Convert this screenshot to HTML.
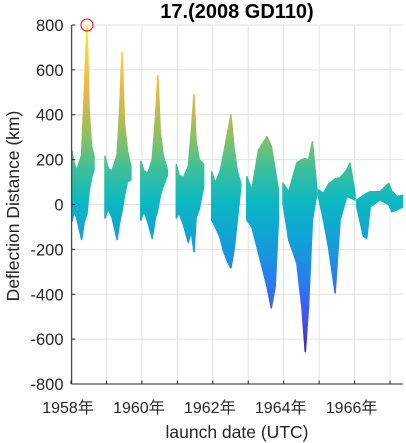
<!DOCTYPE html>
<html><head><meta charset="utf-8"><style>
body{margin:0;background:#fff}
svg{display:block;font-family:"Liberation Sans","Noto Sans CJK SC",sans-serif}
</style></head><body>
<svg id="chart" width="406" height="443" viewBox="0 0 406 443">
<defs>
<clipPath id="plotclip"><rect x="72" y="25" width="331" height="360"/></clipPath>
<linearGradient id="parula" gradientUnits="userSpaceOnUse" x1="0" y1="352.6" x2="0" y2="25">
<stop offset="0" stop-color="#3e26a8"/><stop offset="0.1" stop-color="#4751f0"/>
<stop offset="0.2" stop-color="#2d76f2"/><stop offset="0.3" stop-color="#1996de"/>
<stop offset="0.38" stop-color="#0ea8d0"/><stop offset="0.46" stop-color="#0cb8c2"/>
<stop offset="0.56" stop-color="#3cc09a"/><stop offset="0.66" stop-color="#8cc062"/>
<stop offset="0.76" stop-color="#d3b94a"/><stop offset="0.86" stop-color="#fcbe3c"/>
<stop offset="0.95" stop-color="#f4e024"/><stop offset="1" stop-color="#f9fb0e"/>
</linearGradient>
</defs>
<g id="grid"></g>
<g id="surf" clip-path="url(#plotclip)"></g>
<g id="axes"></g>
<text x="237" y="18" font-size="20" font-weight="bold" text-anchor="middle">17.(2008 GD110)</text>
<text x="237" y="438" font-size="17.5" text-anchor="middle" fill="#262626">launch date (UTC)</text>
<text transform="translate(19,206) rotate(-90)" font-size="17.5" text-anchor="middle" fill="#262626">Deflection Distance (km)</text>
</svg>
<script>
const yTicks=[800,600,400,200,0,-200,-400,-600,-800];
const xTickYears=[1958,1960,1962,1964,1966];
const xTickLabels=["1958年","1960年","1962年","1964年","1966年"];
const gridYears=[1958,1959,1960,1961,1962,1963,1964,1965,1966,1967];
const peakYear=1958.45, peakValue=800;
const cycleYears=[
[1958.03,1958.08,1958.16,1958.30,1958.37,1958.45,1958.51,1958.58,1958.65],
[1958.96,1959.05,1959.16,1959.30,1959.37,1959.44,1959.51,1959.59,1959.69],
[1959.97,1960.06,1960.17,1960.29,1960.38,1960.45,1960.52,1960.60,1960.72],
[1960.97,1961.05,1961.17,1961.31,1961.39,1961.47,1961.53,1961.62,1961.74],
[1961.97,1962.07,1962.21,1962.29,1962.43,1962.51,1962.60,1962.69,1962.79],
[1962.96,1963.10,1963.29,1963.53,1963.65,1963.76,1963.85],
[1963.98,1964.14,1964.37,1964.51,1964.61,1964.70,1964.81,1964.94],
[1964.98,1965.12,1965.26,1965.45,1965.59,1965.78,1965.87,1966.01],
[1966.06,1966.25,1966.34,1966.44,1966.72,1966.96,1967.05,1967.19,1967.37]];
const cycleUpper=[
[237,190,150,220,480,800,420,260,215],
[215,160,150,220,420,680,360,240,170],
[193,150,140,200,380,575,320,220,155],
[178,130,120,170,320,490,280,200,180],
[146,96,150,213,330,400,250,150,94],
[124,65,243,302,260,154,65],
[95,57,185,200,205,198,280,65],
[65,50,90,115,118,154,185,51],
[20,40,50,57,57,94,60,35,42]];
const cycleLower=[
[-74,-30,-60,-156,-80,-40,60,120,155],
[-60,-20,-60,-156,-80,-30,40,100,110],
[-70,-30,-80,-150,-60,-20,40,80,130],
[-60,-40,-90,-170,-120,-210,-60,-20,80],
[-69,-100,-150,-203,-260,-283,-200,-69,80],
[-69,-100,-216,-366,-461,-366,-69],
[5,-158,-261,-455,-656,-455,-69,51],
[35,-69,-188,-394,-69,35,30,20],
[-10,-143,-150,-10,20,0,-32,-25,-10]];
const NS="http://www.w3.org/2000/svg";
const X0=71.7,X1=403,Y0=25,Y1=384;
function xs(yr){return 71+(yr-1958)*35.45;}
function ys(v){return 204.5-v*0.2244;}
function mk(tag,attrs,parent){const e=document.createElementNS(NS,tag);for(const k in attrs)e.setAttribute(k,attrs[k]);parent.appendChild(e);return e;}
const grid=document.getElementById('grid'),axes=document.getElementById('axes'),surf=document.getElementById('surf');
yTicks.forEach(v=>{
 const l=mk('line',{x1:X0,x2:X1,y1:ys(v),y2:ys(v),stroke:'#e2e2e2','stroke-width':1},grid);
 
 
 const tk=mk('line',{x1:X0,x2:X0+3.5,y1:ys(v),y2:ys(v),stroke:'#262626','stroke-width':1},axes);
 
 
 const t=mk('text',{x:63.5,y:ys(v)+6,'font-size':16.5,'text-anchor':'end',fill:'#262626'},axes);
 t.textContent=v;
 
 
});
gridYears.forEach(yr=>{
 const l=mk('line',{x1:xs(yr),x2:xs(yr),y1:Y0,y2:Y1,stroke:'#e2e2e2','stroke-width':1},grid);
 
 
 const tk=mk('line',{x1:xs(yr),x2:xs(yr),y1:Y1,y2:Y1-3.5,stroke:'#262626','stroke-width':1},axes);
 
 
});
xTickYears.forEach((yr,i)=>{
 const t=mk('text',{x:xs(yr)-3,y:413,'font-size':16,'text-anchor':'middle',fill:'#262626'},axes);
 t.textContent=xTickLabels[i];
 
 
});
cycleYears.forEach((yrs,c)=>{
 const up=yrs.map((yr,i)=>xs(yr).toFixed(1)+','+ys(cycleUpper[c][i]).toFixed(1));
 const lo=yrs.map((yr,i)=>xs(yr).toFixed(1)+','+ys(cycleLower[c][i]).toFixed(1)).reverse();
 const p=mk('polygon',{points:up.concat(lo).join(' '),fill:'url(#parula)',stroke:'url(#parula)','stroke-width':1.5,'stroke-linejoin':'round'},surf);
 
 
});
const al=mk('line',{x1:X0,x2:X0,y1:Y0,y2:Y1,stroke:'#262626','stroke-width':1},axes);


const bl=mk('line',{x1:X0,x2:X1,y1:Y1,y2:Y1,stroke:'#262626','stroke-width':1},axes);


const pk=mk('circle',{cx:xs(peakYear),cy:ys(peakValue),r:6,fill:'none',stroke:'#ff0000','stroke-width':1},axes);


</script>
</body></html>
